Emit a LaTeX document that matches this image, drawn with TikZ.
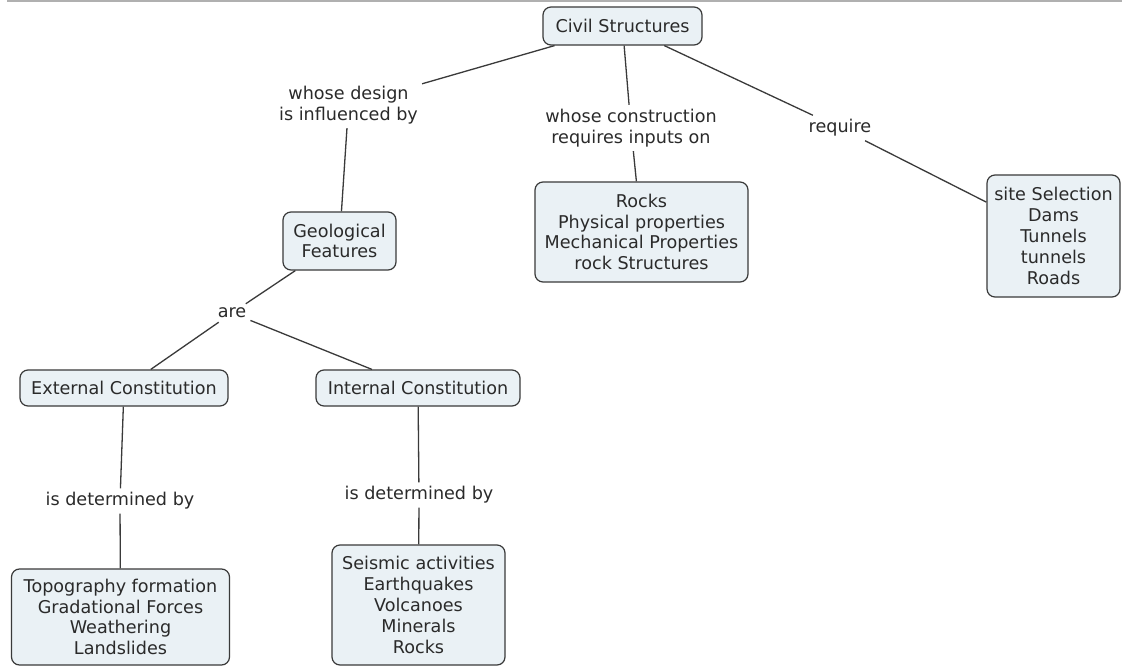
\documentclass[tikz,border=0pt]{standalone}
\usepackage{fontspec}
\setmainfont{DejaVu Sans}
\definecolor{linec}{HTML}{3A3A3A}
\definecolor{boxfill}{HTML}{EAF1F5}
\definecolor{textc}{HTML}{2A2A2A}
\definecolor{topline}{HTML}{B0B0B0}
\begin{document}
\begin{tikzpicture}[x=1pt,y=-1pt,
  concept/.style={draw=linec, fill=boxfill, rounded corners=8pt, line width=1.2pt,
    align=center, text=textc, inner sep=0pt, font=\fontsize{17.6}{20.8}\selectfont},
  lbl/.style={align=center, text=textc, inner sep=4pt, font=\fontsize{17.6}{20.8}\selectfont},
  conn/.style={draw=linec, line width=1.3pt}]
\useasboundingbox (0,0) rectangle (1122,666);
\fill[white] (0,0) rectangle (1122,666);
\coordinate (tl) at (7,1);
\coordinate (tr) at (1122,1);
\draw[topline, line width=2pt] (tl) -- (tr);

% concepts
\node[concept, minimum width=159pt, minimum height=38pt] (civil) at (622.5,26) {Civil Structures};
\node[concept, minimum width=113pt, minimum height=58pt] (geo) at (339.5,241) {Geological\\Features};
\node[concept, minimum width=208pt, minimum height=36pt] (ext) at (124,388) {External Constitution};
\node[concept, minimum width=204pt, minimum height=36pt] (int) at (418,388) {Internal Constitution};
\node[concept, minimum width=213pt, minimum height=100pt] (rocks) at (641.5,232) {Rocks\\Physical properties\\Mechanical Properties\\rock Structures};
\node[concept, minimum width=133pt, minimum height=122pt] (site) at (1053.5,236) {site Selection\\Dams\\Tunnels\\tunnels\\Roads};
\node[concept, minimum width=218pt, minimum height=96pt] (topo) at (120.5,617) {Topography formation\\Gradational Forces\\Weathering\\Landslides};
\node[concept, minimum width=173pt, minimum height=120pt] (seis) at (418.5,605) {Seismic activities\\Earthquakes\\Volcanoes\\Minerals\\Rocks};

% linking phrases
\node[lbl] (l1) at (348.5,105) {whose design\\is influenced by};
\node[lbl] (l2) at (631,128) {whose construction\\requires inputs on};
\node[lbl] (l3) at (840,128) {require};
\node[lbl] (l4) at (232,313) {are};
\node[lbl] (l5) at (120,501) {is determined by};
\node[lbl] (l6) at (419,495) {is determined by};

% connectors
\draw[conn] (civil) -- (l1);
\draw[conn] (l1) -- (geo);
\draw[conn] (civil) -- (l2);
\draw[conn] (l2) -- (rocks);
\draw[conn] (civil) -- (l3);
\draw[conn] (l3) -- (site);
\draw[conn] (geo) -- (l4);
\draw[conn] (l4) -- (ext);
\draw[conn] (l4) -- (int);
\draw[conn] (ext) -- (l5);
\draw[conn] (l5) -- (topo);
\draw[conn] (int) -- (l6);
\draw[conn] (l6) -- (seis);
\end{tikzpicture}
\end{document}
